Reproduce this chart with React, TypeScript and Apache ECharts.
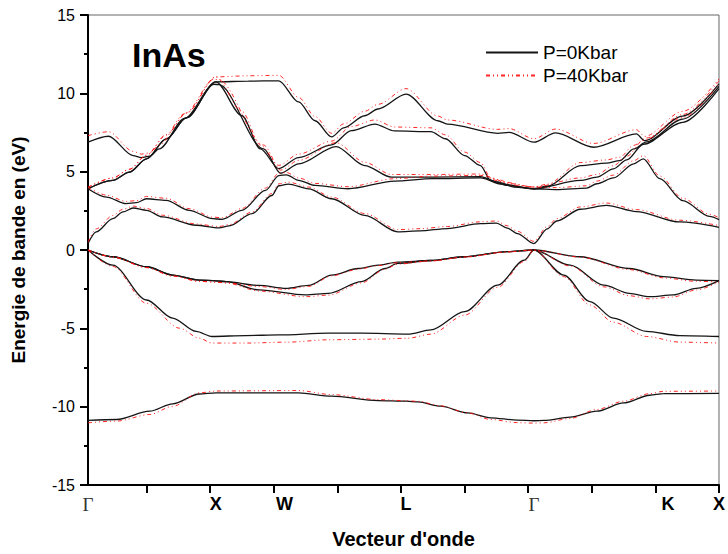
import React, { useEffect, useRef } from "react";
import * as echarts from "echarts";

type Pt = [number, number];

// Path coordinate (in tick units) of each high-symmetry point and its label
const SYM_POS = [0.08, 2.09, 3.17, 5.08, 7.09, 9.2, 10];
const SYM_NAMES = ["Γ", "X", "W", "L", "Γ", "K", "X"];
const TICK_POS = [1, 2, 3, 4, 5, 6, 7, 8, 9, 10];

const LABEL_P0 = "P=0Kbar";
const LABEL_P40 = "P=40Kbar";

// ---- Valence bands, P = 0 kbar ----
const VB1_P0: Pt[] = [[0.08,-10.88],[0.53,-10.82],[1.05,-10.29],[1.41,-9.82],[1.83,-9.19],[2.09,-9.12],[3.39,-9.12],[3.91,-9.33],[4.64,-9.61],[5.08,-9.65],[5.27,-9.7],[5.62,-9.97],[6.05,-10.4],[6.41,-10.71],[6.83,-10.86],[7.09,-10.9],[7.25,-10.88],[7.66,-10.67],[8.08,-10.29],[8.5,-9.76],[8.91,-9.27],[9.13,-9.17],[10,-9.15]];
const VB2_P0: Pt[] = [[0.08,0],[0.47,-0.97],[1.0,-3.19],[1.41,-4.35],[1.78,-5.2],[2.03,-5.52],[2.56,-5.46],[3.08,-5.42],[3.86,-5.31],[4.38,-5.31],[5.11,-5.37],[5.47,-5.1],[6.0,-3.93],[6.52,-2.24],[6.94,-0.65],[7.09,0],[7.56,-1.6],[7.97,-3.29],[8.34,-4.35],[8.86,-5.2],[9.38,-5.46],[10,-5.52]];
const VB3_P0: Pt[] = [[0.08,0],[0.47,-0.43],[1.0,-1.07],[1.41,-1.6],[1.83,-1.92],[2.09,-1.97],[2.25,-2.02],[2.77,-2.26],[3.19,-2.45],[3.55,-2.26],[3.91,-1.6],[4.33,-1.18],[4.64,-0.97],[4.95,-0.77],[5.47,-0.67],[6.0,-0.43],[6.67,-0.11],[7.09,0],[7.81,-0.43],[8.59,-1.18],[9.13,-1.7],[9.64,-1.92],[10,-1.96]];
const VB4_P0: Pt[] = [[0.08,0],[0.47,-0.43],[1.0,-1.07],[1.41,-1.6],[1.83,-1.92],[2.09,-1.97],[2.25,-2.02],[2.77,-2.55],[3.5,-2.87],[3.86,-2.77],[4.38,-2.02],[4.75,-1.18],[4.95,-0.86],[5.47,-0.67],[6.0,-0.43],[6.67,-0.11],[7.09,0],[7.66,-0.97],[8.19,-2.24],[8.59,-2.77],[8.91,-2.98],[9.28,-2.87],[9.64,-2.45],[10,-1.96]];

// ---- Conduction bands, P = 0 kbar ----
const CB1_P0: Pt[] = [[0.08,0.41],[0.21,1.16],[0.47,2.0],[0.63,2.43],[0.79,2.68],[1.0,2.53],[1.25,2.11],[1.78,1.58],[2.14,1.41],[2.3,1.54],[2.66,2.32],[2.97,3.48],[3.08,4.1],[3.23,4.21],[3.55,3.9],[3.91,3.27],[4.43,2.21],[4.95,1.16],[5.3,1.22],[5.73,1.37],[6.25,1.68],[6.5,1.72],[6.67,1.4],[6.83,1.05],[7.09,0.41],[7.3,1.35],[7.45,1.85],[7.82,2.6],[8.23,2.85],[8.7,2.45],[9.38,1.79],[10,1.45]];
const CB2_P0: Pt[] = [[0.08,3.91],[0.37,3.38],[0.68,2.96],[0.84,3.02],[1.0,3.27],[1.31,3.17],[1.67,2.53],[2.04,2.0],[2.19,1.96],[2.5,2.53],[2.87,3.8],[3.08,4.75],[3.2,4.8],[3.39,4.45],[3.65,4.12],[4.17,3.91],[4.9,4.4],[5.5,4.55],[6.25,4.6],[6.59,4.2],[7.09,3.91],[7.45,3.85],[7.92,3.95],[8.08,4.23],[8.34,4.6],[8.66,5.5],[8.81,5.82],[9.07,4.55],[9.43,3.15],[9.85,2.15],[10,1.94]];
const CB3_P0: Pt[] = [[0.08,3.91],[0.47,4.44],[0.73,4.97],[1.0,5.82],[1.31,7.09],[1.63,8.45],[2.09,10.73],[2.5,8.57],[2.79,6.45],[3.08,5.2],[3.39,5.9],[3.91,6.71],[4.22,7.62],[4.59,8.04],[4.9,7.6],[5.47,7.55],[5.7,7.1],[6.0,6.03],[6.25,5.39],[6.41,4.44],[6.67,4.12],[7.09,3.91],[7.3,4.07],[7.82,5.39],[8.23,5.55],[8.44,5.71],[8.66,6.45],[8.86,6.9],[9.43,8.36],[10,10.45]];
const CB4_P0: Pt[] = [[0.08,3.91],[0.47,4.44],[0.73,4.97],[1.0,5.82],[1.31,7.09],[1.63,8.45],[2.09,10.73],[2.6,10.78],[3.08,10.8],[3.39,9.45],[3.65,8.25],[3.91,7.22],[4.1,7.8],[4.43,8.57],[4.64,9.0],[5.08,9.95],[5.58,8.25],[5.73,8.04],[6.52,7.45],[6.7,7.51],[7.09,6.88],[7.43,7.47],[8.03,6.56],[8.7,7.41],[8.83,6.98],[9.43,8.55],[10,10.6]];
const CB5_P0: Pt[] = [[0.08,6.88],[0.4,7.26],[0.79,6.03],[0.92,5.9],[1.05,5.99],[1.2,6.45],[1.6,8.4],[2.06,10.58],[2.14,10.55],[2.84,6.45],[3.11,4.9],[3.39,5.5],[3.98,6.6],[4.43,5.39],[4.85,4.65],[5.5,4.65],[6.25,4.68],[6.52,4.35],[6.78,4.02],[7.09,3.91],[7.82,4.44],[8.08,4.65],[8.34,5.18],[8.55,5.75],[8.81,6.75],[9.43,8.15],[10,10.3]];

// ---- Valence bands, P = 40 kbar ----
const VB1_P40: Pt[] = [[0.08,-11.03],[0.53,-10.92],[1.05,-10.5],[1.41,-9.98],[1.83,-9.12],[2.09,-9.0],[3.39,-8.97],[3.91,-9.23],[4.64,-9.55],[5.08,-9.62],[5.27,-9.66],[5.62,-9.95],[6.05,-10.4],[6.41,-10.82],[6.83,-11.02],[7.09,-11.05],[7.25,-11.03],[7.66,-10.75],[8.08,-10.18],[8.5,-9.65],[8.91,-9.17],[9.13,-9.02],[10,-9.0]];
const VB2_P40: Pt[] = [[0.08,0],[0.47,-1.05],[1.0,-3.4],[1.52,-4.99],[1.83,-5.63],[2.03,-5.94],[2.56,-5.94],[3.23,-5.88],[3.86,-5.73],[4.64,-5.69],[5.11,-5.63],[5.47,-5.37],[6.0,-4.16],[6.52,-2.38],[6.94,-0.73],[7.09,0],[7.56,-1.7],[7.97,-3.51],[8.34,-4.61],[8.86,-5.52],[9.38,-5.88],[10,-5.94]];
const VB3_P40: Pt[] = [[0.08,0],[0.47,-0.45],[1.0,-1.12],[1.41,-1.66],[1.83,-2.0],[2.09,-2.05],[2.25,-2.1],[2.77,-2.33],[3.19,-2.52],[3.55,-2.32],[3.91,-1.65],[4.33,-1.22],[4.64,-1.0],[4.95,-0.8],[5.47,-0.7],[6.0,-0.45],[6.67,-0.12],[7.09,0],[7.81,-0.45],[8.59,-1.25],[9.13,-1.78],[9.64,-2.0],[10,-2.04]];
const VB4_P40: Pt[] = [[0.08,0],[0.47,-0.45],[1.0,-1.12],[1.41,-1.66],[1.83,-2.0],[2.09,-2.05],[2.25,-2.1],[2.77,-2.62],[3.5,-2.98],[3.86,-2.88],[4.38,-2.1],[4.75,-1.22],[4.95,-0.9],[5.47,-0.7],[6.0,-0.45],[6.67,-0.12],[7.09,0],[7.66,-1.02],[8.19,-2.35],[8.59,-2.92],[8.91,-3.12],[9.28,-3.0],[9.64,-2.55],[10,-2.04]];

// ---- Conduction bands, P = 40 kbar ----
const CB1_P40: Pt[] = [[0.08,0.5],[0.21,1.35],[0.47,2.2],[0.63,2.6],[0.79,2.8],[1.0,2.65],[1.25,2.22],[1.78,1.66],[2.14,1.5],[2.3,1.62],[2.66,2.42],[2.97,3.6],[3.08,4.22],[3.23,4.33],[3.55,4.02],[3.91,3.38],[4.43,2.33],[4.95,1.3],[5.3,1.36],[5.73,1.5],[6.25,1.8],[6.5,1.85],[6.67,1.55],[6.83,1.2],[7.09,0.55],[7.3,1.5],[7.45,2.0],[7.82,2.75],[8.23,3.0],[8.7,2.58],[9.38,1.9],[10,1.56]];
const CB2_P40: Pt[] = [[0.08,4.0],[0.37,3.5],[0.68,3.1],[0.84,3.15],[1.0,3.42],[1.31,3.3],[1.67,2.64],[2.04,2.1],[2.19,2.06],[2.5,2.65],[2.87,3.95],[3.08,4.9],[3.2,4.95],[3.39,4.6],[3.65,4.25],[4.17,4.04],[4.9,4.55],[5.5,4.72],[6.25,4.76],[6.59,4.35],[7.09,4.02],[7.45,3.98],[7.92,4.1],[8.08,4.4],[8.34,4.78],[8.66,5.7],[8.81,6.02],[9.07,4.72],[9.43,3.3],[9.85,2.28],[10,2.06]];
const CB3_P40: Pt[] = [[0.08,4.0],[0.47,4.6],[0.73,5.15],[1.0,6.05],[1.31,7.35],[1.63,8.75],[2.09,11.05],[2.5,8.85],[2.79,6.7],[3.08,5.4],[3.39,6.12],[3.91,6.95],[4.22,7.88],[4.59,8.3],[4.9,7.85],[5.47,7.8],[5.7,7.35],[6.0,6.25],[6.25,5.58],[6.41,4.62],[6.67,4.26],[7.09,4.02],[7.3,4.2],[7.82,5.58],[8.23,5.75],[8.44,5.92],[8.66,6.68],[8.86,7.15],[9.43,8.65],[10,10.8]];
const CB4_P40: Pt[] = [[0.08,4.0],[0.47,4.6],[0.73,5.15],[1.0,6.05],[1.31,7.35],[1.63,8.75],[2.09,11.05],[2.6,11.12],[3.08,11.15],[3.39,9.75],[3.65,8.52],[3.91,7.45],[4.1,8.05],[4.43,8.85],[4.64,9.3],[5.08,10.3],[5.58,8.55],[5.73,8.3],[6.52,7.7],[6.7,7.75],[7.09,7.1],[7.43,7.72],[8.03,6.8],[8.7,7.68],[8.83,7.25],[9.43,8.85],[10,10.92]];
const CB5_P40: Pt[] = [[0.08,7.3],[0.4,7.55],[0.79,6.3],[0.92,6.12],[1.05,6.2],[1.2,6.7],[1.6,8.7],[2.06,10.9],[2.14,10.86],[2.84,6.7],[3.11,5.1],[3.39,5.72],[3.98,6.85],[4.43,5.6],[4.85,4.82],[5.5,4.82],[6.25,4.85],[6.52,4.5],[6.78,4.14],[7.09,4.02],[7.82,4.6],[8.08,4.82],[8.34,5.38],[8.55,5.98],[8.81,7.0],[9.43,8.45],[10,10.62]];

const BANDS_P0 = [VB1_P0, VB2_P0, VB3_P0, VB4_P0, CB1_P0, CB2_P0, CB3_P0, CB4_P0, CB5_P0];
const BANDS_P40 = [VB1_P40, VB2_P40, VB3_P40, VB4_P40, CB1_P40, CB2_P40, CB3_P40, CB4_P40, CB5_P40];

const FONT = "'Liberation Sans', Arial, sans-serif";
const BLACK = "#151515";
const RED = "#ff1010";

function bandSeries(data: Pt[], name: string, color: string, dashed: boolean, z: number) {
  return {
    type: "line",
    name,
    data,
    symbol: "none",
    showSymbol: false,
    smooth: 0.3,
    smoothMonotone: "x",
    z,
    itemStyle: { color },
    lineStyle: dashed
      ? { color, width: 1, type: [4, 3, 1, 3, 1, 3], opacity: 0.9 }
      : { color, width: 1.3 },
    emphasis: { disabled: true },
    silent: true,
  };
}

export default function App() {
  const ref = useRef<HTMLDivElement>(null);

  useEffect(() => {
    if (!ref.current) return;
    const chart = echarts.init(ref.current, null, { renderer: "svg" });

    const series = [
      ...BANDS_P0.map((d) => bandSeries(d, LABEL_P0, BLACK, false, 2)),
      ...BANDS_P40.map((d) => bandSeries(d, LABEL_P40, RED, true, 3)),
    ];

    chart.setOption({
      animation: false,
      backgroundColor: "#ffffff",
      textStyle: { fontFamily: FONT },
      title: {
        text: "InAs",
        left: 127,
        top: 33,
        textStyle: { fontFamily: FONT, fontSize: 34, fontWeight: "bold", color: "#000" },
      },
      legend: {
        orient: "vertical",
        left: 480,
        top: 38,
        itemWidth: 52,
        itemHeight: 12,
        itemGap: 4,
        itemStyle: { opacity: 0 },
        data: [LABEL_P0, LABEL_P40],
        textStyle: { fontFamily: FONT, fontSize: 19, color: "#000" },
      },
      grid: {
        left: 88,
        right: 5,
        top: 15,
        bottom: 67,
        show: true,
        borderColor: "#666",
        borderWidth: 1,
        backgroundColor: "transparent",
      },
      xAxis: {
        type: "value",
        min: SYM_POS[0],
        max: 10,
        name: "Vecteur d'onde",
        nameLocation: "middle",
        nameGap: 44,
        nameTextStyle: { fontFamily: FONT, fontSize: 20, fontWeight: "bold", color: "#000" },
        axisLine: { show: true, onZero: false, lineStyle: { color: "#000", width: 2 } },
        axisTick: { show: true, inside: false, length: 8, lineStyle: { color: "#000", width: 2 }, customValues: TICK_POS },
        splitLine: { show: false },
        axisLabel: {
          customValues: SYM_POS,
          margin: 10,
          formatter: (v: number) => {
            const i = SYM_POS.findIndex((p) => Math.abs(p - v) < 1e-6);
            const n = i >= 0 ? SYM_NAMES[i] : "";
            return n === "Γ" ? `{g|${n}}` : `{b|${n}}`;
          },
          rich: {
            g: { fontFamily: "'Liberation Serif', 'Times New Roman', serif", fontSize: 19, color: "#333" },
            b: { fontFamily: FONT, fontSize: 18, fontWeight: "bold", color: "#000" },
          },
        },
      },
      yAxis: {
        type: "value",
        min: -15,
        max: 15,
        interval: 5,
        name: "Energie de bande en (eV)",
        nameLocation: "middle",
        nameGap: 60,
        nameTextStyle: { fontFamily: FONT, fontSize: 19, fontWeight: "bold", color: "#000" },
        axisLine: { show: true, onZero: false, lineStyle: { color: "#000", width: 2 } },
        axisTick: { show: true, inside: false, length: 8, lineStyle: { color: "#000", width: 2 } },
        minorTick: { show: true, splitNumber: 2, length: 4, lineStyle: { color: "#000", width: 2 } },
        splitLine: { show: false },
        minorSplitLine: { show: false },
        axisLabel: { margin: 13, fontFamily: FONT, fontSize: 16, color: "#000" },
      },
      series,
    });

    return () => chart.dispose();
  }, []);

  return (
    <div
      ref={ref}
      style={{ position: "fixed", left: 0, top: 0, width: 728, height: 554, background: "#fff" }}
    />
  );
}
